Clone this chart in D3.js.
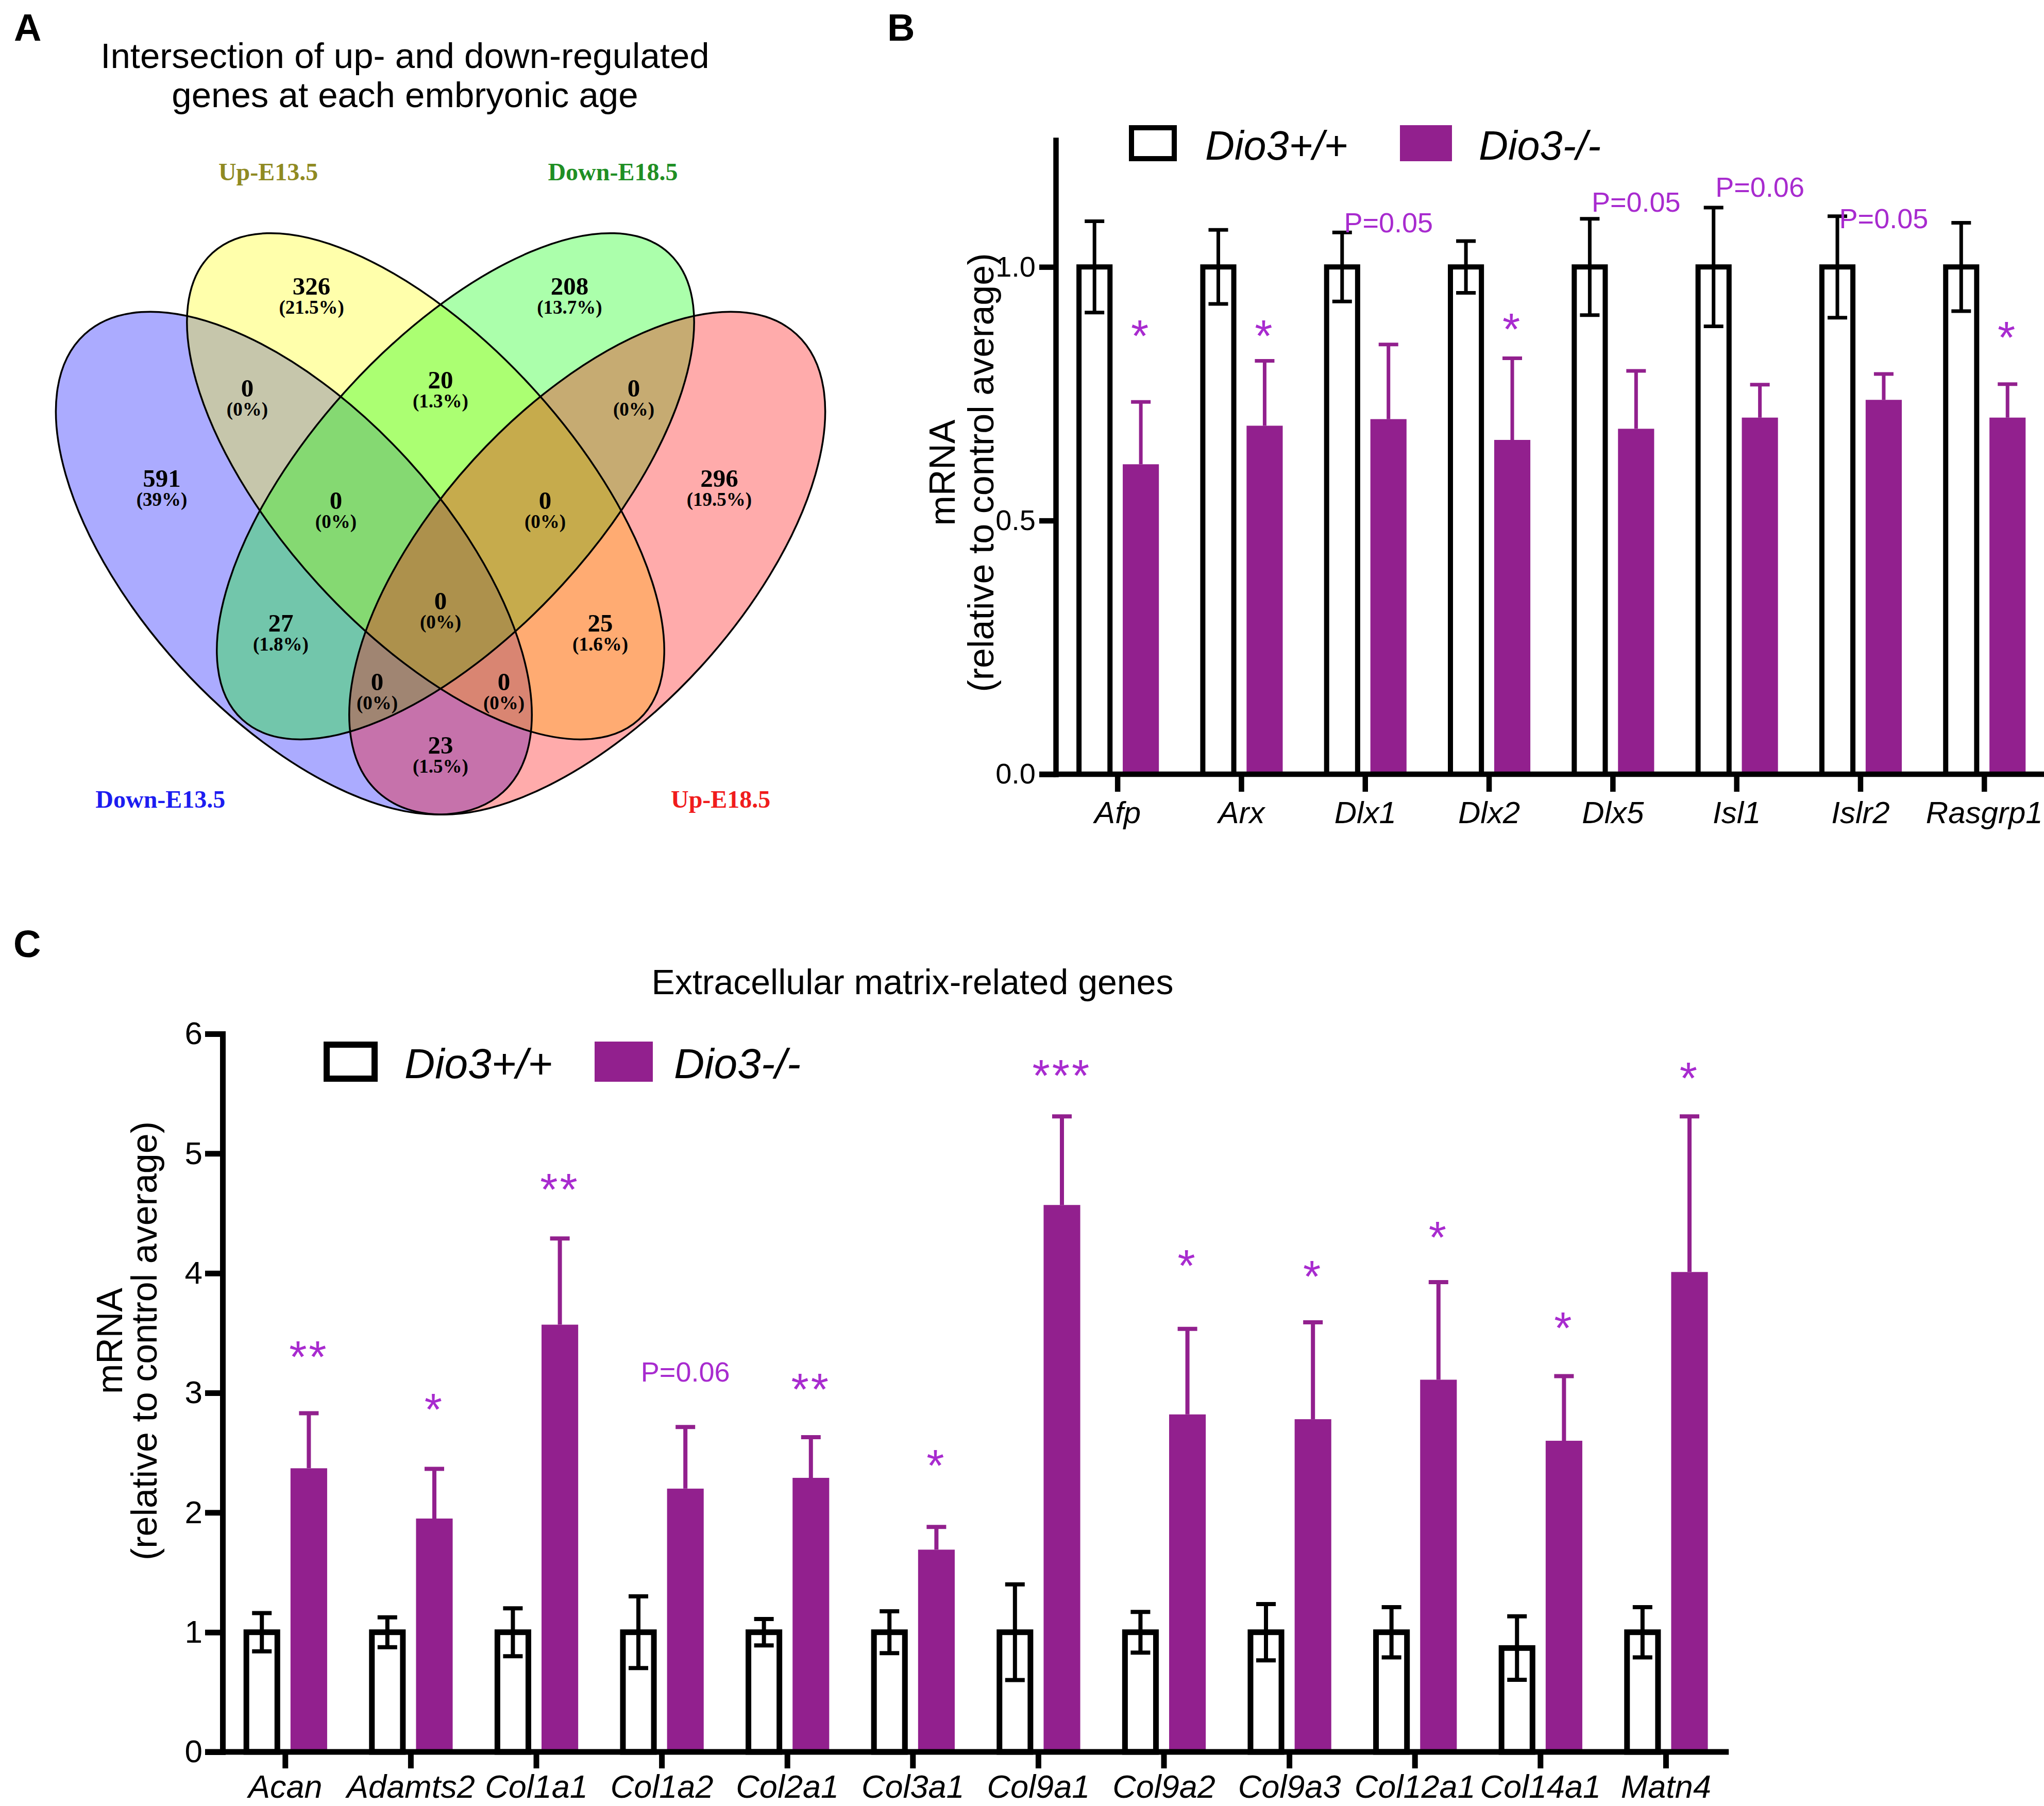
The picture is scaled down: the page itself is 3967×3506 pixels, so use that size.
<!DOCTYPE html>
<html>
<head>
<meta charset="utf-8">
<script src="https://cdn.jsdelivr.net/npm/d3@7"></script>
<style>
  html, body { margin: 0; padding: 0; background: #fff; }
  svg { display: block; }
</style>
</head>
<body>
<svg id="fig" width="3967" height="3506"></svg>
<script>
// ---------- data ----------
// panel A: 4-set Venn (set order: Down-E13.5, Up-E13.5, Down-E18.5, Up-E18.5)
const vennSets = ["Down-E13.5", "Up-E13.5", "Down-E18.5", "Up-E18.5"];
const vennRegions = ["0", "1", "2", "3", "01", "12", "23", "02", "13", "03", "012", "123", "023", "013", "0123"];
const vennCounts = [591, 326, 208, 296, 0, 20, 0, 27, 25, 23, 0, 0, 0, 0, 0];
const vennPercents = ["39", "21.5", "13.7", "19.5", "0", "1.3", "0", "1.8", "1.6", "1.5", "0", "0", "0", "0", "0"];

// panel B
const genesB = ["Afp", "Arx", "Dlx1", "Dlx2", "Dlx5", "Isl1", "Islr2", "Rasgrp1"];
const wtB = [1, 1, 1, 1, 1, 1, 1, 1];
const wtErrB = [0.09, 0.073, 0.068, 0.051, 0.095, 0.117, 0.10, 0.087];
const koB = [0.611, 0.687, 0.700, 0.659, 0.681, 0.703, 0.738, 0.703];
const koErrB = [0.123, 0.128, 0.147, 0.161, 0.114, 0.065, 0.051, 0.066];
const sigB = ["*", "*", "P=0.05", "*", "P=0.05", "P=0.06", "P=0.05", "*"];
const sigLevelB = [0.885, 0.885, 1.088, 0.898, 1.129, 1.158, 1.096, 0.882];
const ticksB = [0, 0.5, 1.0];

// panel C
const genesC = ["Acan", "Adamts2", "Col1a1", "Col1a2", "Col2a1", "Col3a1", "Col9a1", "Col9a2", "Col9a3", "Col12a1", "Col14a1", "Matn4"];
const wtC = [1, 1, 1, 1, 1, 1, 1, 1, 1, 1, 0.868, 1];
const wtErrC = [0.16, 0.125, 0.20, 0.30, 0.11, 0.175, 0.40, 0.17, 0.235, 0.21, 0.265, 0.21];
const koC = [2.37, 1.95, 3.57, 2.20, 2.29, 1.69, 4.57, 2.82, 2.78, 3.11, 2.60, 4.01];
const koErrC = [0.46, 0.415, 0.72, 0.515, 0.34, 0.19, 0.74, 0.715, 0.81, 0.815, 0.54, 1.30];
const sigC = ["**", "*", "**", "P=0.06", "**", "*", "***", "*", "*", "*", "*", "*"];
const sigLevelC = [3.39, 2.95, 4.79, 3.18, 3.12, 2.48, 5.74, 4.15, 4.06, 4.39, 3.63, 5.72];
const ticksC = [0, 1, 2, 3, 4, 5, 6];

const legendNames = ["Dio3+/+", "Dio3-/-"];

// ---------- style ----------
const sans = "'Liberation Sans', Arial, sans-serif";
const serif = "'Liberation Serif', 'Times New Roman', serif";
const purple = "#92208e";
const sigColor = "#a82bcf";
const vennFill = ["#0000ff", "#ffff00", "#00ff00", "#ff0000"];
const vennLabelColor = ["#1c1cf0", "#8f8a22", "#1f8f24", "#f01c1c"];

const svg = d3.select("#fig");

// ---------- panel letters ----------
[["A", 27, 79], ["B", 1722, 79], ["C", 26, 1858]].forEach(function (l) {
  svg.append("text").attr("x", l[1]).attr("y", l[2])
      .attr("font-family", sans).attr("font-weight", "bold").attr("font-size", 74)
      .text(l[0]);
});

// ---------- panel A : Venn ----------
(function drawVenn() {
  const g = svg.append("g");
  // unit layout -> pixels
  const vx = d3.scaleLinear().domain([0, 1]).range([-2.5, 1712.5]);
  const vy = d3.scaleLinear().domain([0, 1]).range([1899.3, 184.3]);
  const unit = 1715;
  // ellipse layout: cx, cy, semi-major, semi-minor, rotation
  const shapes = [
    [0.334, 0.470, 0.351, 0.174, 47.6],
    [0.4831, 0.557, 0.3577, 0.1645, 47.6],
    [0.5169, 0.557, 0.3577, 0.1645, -47.6],
    [0.666, 0.470, 0.351, 0.174, -47.6]
  ];
  const anchors = {
    "0": [0.1846, 0.5664], "1": [0.354, 0.784], "2": [0.646, 0.784], "3": [0.8154, 0.5664],
    "01": [0.2813, 0.6684], "12": [0.5, 0.6777], "23": [0.7187, 0.6684],
    "02": [0.3192, 0.4025], "13": [0.6808, 0.4025], "03": [0.5, 0.2643],
    "012": [0.3816, 0.5413], "123": [0.6184, 0.5413],
    "023": [0.4283, 0.336], "013": [0.5717, 0.336], "0123": [0.5, 0.4276]
  };
  const setLabelPos = [[0.183, 0.1932], [0.305, 0.9034], [0.695, 0.9034], [0.817, 0.1932]];

  g.append("text").attr("x", 786).attr("y", 132).attr("text-anchor", "middle")
      .attr("font-family", sans).attr("font-size", 69)
      .text("Intersection of up- and down-regulated");
  g.append("text").attr("x", 786).attr("y", 208).attr("text-anchor", "middle")
      .attr("font-family", sans).attr("font-size", 69)
      .text("genes at each embryonic age");

  const ell = shapes.map((s, i) => ({s: s, fill: vennFill[i]}));
  g.selectAll(".vfill").data(ell).join("ellipse").attr("class", "vfill")
      .attr("transform", d => "translate(" + vx(d.s[0]) + "," + vy(d.s[1]) + ") rotate(" + d.s[4] + ")")
      .attr("rx", d => d.s[2] * unit).attr("ry", d => d.s[3] * unit)
      .attr("fill", d => d.fill).attr("fill-opacity", 0.33).attr("stroke", "none");
  g.selectAll(".vline").data(ell).join("ellipse").attr("class", "vline")
      .attr("transform", d => "translate(" + vx(d.s[0]) + "," + vy(d.s[1]) + ") rotate(" + d.s[4] + ")")
      .attr("rx", d => d.s[2] * unit).attr("ry", d => d.s[3] * unit)
      .attr("fill", "none").attr("stroke", "#000").attr("stroke-width", 3.5);

  const regions = vennRegions.map((r, i) => ({key: r, n: vennCounts[i], pct: vennPercents[i]}));
  g.selectAll(".vnum").data(regions).join("text").attr("class", "vnum")
      .attr("x", d => vx(anchors[d.key][0])).attr("y", d => vy(anchors[d.key][1]) + 17)
      .attr("text-anchor", "middle").attr("font-family", serif).attr("font-weight", "bold")
      .attr("font-size", 49).text(d => d.n);
  g.selectAll(".vpct").data(regions).join("text").attr("class", "vpct")
      .attr("x", d => vx(anchors[d.key][0])).attr("y", d => vy(anchors[d.key][1]) + 54)
      .attr("text-anchor", "middle").attr("font-family", serif).attr("font-weight", "bold")
      .attr("font-size", 37).text(d => "(" + d.pct + "%)");

  g.selectAll(".vset").data(vennSets).join("text").attr("class", "vset")
      .attr("x", (d, i) => vx(setLabelPos[i][0])).attr("y", (d, i) => vy(setLabelPos[i][1]))
      .attr("text-anchor", "middle").attr("font-family", serif).attr("font-weight", "bold")
      .attr("font-size", 48).attr("fill", (d, i) => vennLabelColor[i]).text(d => d);
})();

// ---------- bar panels ----------
function drawBars(p) {
  const g = svg.append("g");
  const x = d3.scaleBand().domain(p.genes).range([p.axisX, p.axisX + p.genes.length * p.step]);
  const sub = d3.scaleBand().domain(["wt", "ko"]).range([0, x.bandwidth()])
      .paddingInner(0.22).paddingOuter(0.446);
  const y = d3.scaleLinear().domain([0, p.yMax]).range([p.y0, p.yTop]);
  const bw = sub.bandwidth();
  const rows = p.genes.map((gene, i) => ({
    gene: gene, wt: p.wt[i], wtErr: p.wtErr[i], ko: p.ko[i], koErr: p.koErr[i],
    sig: p.sig[i], sigLevel: p.sigLevel[i]
  }));
  const wtX = d => x(d.gene) + sub("wt") + bw / 2;
  const koX = d => x(d.gene) + sub("ko") + bw / 2;
  const half = p.cap / 2;

  // knockout bars + upper error
  g.selectAll(".ko").data(rows).join("rect").attr("class", "ko")
      .attr("x", d => x(d.gene) + sub("ko")).attr("y", d => y(d.ko))
      .attr("width", bw).attr("height", d => y(0) - y(d.ko))
      .attr("fill", purple);
  g.selectAll(".koerr").data(rows).join("path").attr("class", "koerr")
      .attr("d", d => "M" + koX(d) + "," + y(d.ko) + "V" + y(d.ko + d.koErr)
          + "M" + (koX(d) - half) + "," + y(d.ko + d.koErr) + "H" + (koX(d) + half))
      .attr("fill", "none").attr("stroke", purple).attr("stroke-width", p.errW);

  // wild type open bars + two-sided error
  g.selectAll(".wt").data(rows).join("rect").attr("class", "wt")
      .attr("x", d => x(d.gene) + sub("wt") + p.barStroke / 2).attr("y", d => y(d.wt))
      .attr("width", bw - p.barStroke).attr("height", d => y(0) - y(d.wt))
      .attr("fill", "#fff").attr("stroke", "#000").attr("stroke-width", p.barStroke);
  g.selectAll(".wterr").data(rows).join("path").attr("class", "wterr")
      .attr("d", d => "M" + wtX(d) + "," + y(d.wt - d.wtErr) + "V" + y(d.wt + d.wtErr)
          + "M" + (wtX(d) - half) + "," + y(d.wt + d.wtErr) + "H" + (wtX(d) + half)
          + "M" + (wtX(d) - half) + "," + y(d.wt - d.wtErr) + "H" + (wtX(d) + half))
      .attr("fill", "none").attr("stroke", "#000").attr("stroke-width", p.errW);

  // significance marks
  g.selectAll(".sig").data(rows).join("text").attr("class", "sig")
      .attr("x", d => koX(d))
      .attr("y", d => d.sig[0] === "P" ? y(d.sigLevel) + p.pFont * 0.36 : y(d.sigLevel) + p.starFont * 0.575)
      .attr("text-anchor", "middle").attr("font-family", sans)
      .attr("font-size", d => d.sig[0] === "P" ? p.pFont : p.starFont)
      .attr("letter-spacing", d => d.sig[0] === "P" ? 0 : 4)
      .attr("fill", sigColor).text(d => d.sig);

  // y axis
  const ya = g.append("g").attr("transform", "translate(" + p.axisX + ",0)")
      .call(d3.axisLeft(y).tickValues(p.ticks).tickFormat(p.fmt)
          .tickSize(p.tickLen).tickSizeOuter(0).tickPadding(p.tickPad));
  ya.select(".domain").attr("stroke-width", p.axisW).attr("stroke-linecap", "square");
  ya.selectAll(".tick line").attr("stroke-width", p.axisW);
  ya.selectAll(".tick text").attr("font-family", sans).attr("font-size", p.tickFont).attr("fill", "#000");

  // x axis
  const xa = g.append("g").attr("transform", "translate(0," + p.y0 + ")")
      .call(d3.axisBottom(x).tickSize(p.xTickLen).tickSizeOuter(0));
  xa.select(".domain").remove();
  xa.selectAll(".tick line").attr("stroke-width", p.axisW);
  xa.selectAll(".tick text").attr("y", p.labelDrop).attr("dy", 0)
      .attr("font-family", sans).attr("font-style", "italic")
      .attr("font-size", p.xFont).attr("fill", "#000");
  g.append("line").attr("x1", p.axisX - p.tickLen).attr("x2", x.range()[1])
      .attr("y1", p.y0).attr("y2", p.y0)
      .attr("stroke", "#000").attr("stroke-width", p.axisW);

  // y label
  const ly = (p.y0 + p.yTop) / 2 + p.labelShift;
  g.append("text").attr("transform", "translate(" + p.ylab1 + "," + ly + ") rotate(-90)")
      .attr("text-anchor", "middle").attr("font-family", sans).attr("font-size", 70)
      .text("mRNA");
  g.append("text").attr("transform", "translate(" + p.ylab2 + "," + ly + ") rotate(-90)")
      .attr("text-anchor", "middle").attr("font-family", sans).attr("font-size", 70)
      .text("(relative to control average)");

  // legend
  const lg = g.append("g");
  lg.append("rect").attr("x", p.leg[0] + p.legStroke / 2).attr("y", p.leg[1] + p.legStroke / 2)
      .attr("width", p.leg[2] - p.legStroke).attr("height", p.leg[3] - p.legStroke)
      .attr("fill", "#fff").attr("stroke", "#000").attr("stroke-width", p.legStroke);
  lg.append("rect").attr("x", p.leg[4]).attr("y", p.leg[1])
      .attr("width", p.leg[2] + 8).attr("height", p.leg[3])
      .attr("fill", purple);
  lg.selectAll("text").data(legendNames).join("text")
      .attr("x", (d, i) => i === 0 ? p.legText[0] : p.legText[1]).attr("y", p.legText[2])
      .attr("font-family", sans).attr("font-style", "italic").attr("font-size", p.legFont)
      .text(d => d);
}

drawBars({
  genes: genesB, wt: wtB, wtErr: wtErrB, ko: koB, koErr: koErrB, sig: sigB, sigLevel: sigLevelB,
  ticks: ticksB, fmt: d3.format(".1f"), yMax: 1.25,
  axisX: 2049, step: 240.3, y0: 1503, yTop: 272,
  barStroke: 10, errW: 7, cap: 38, axisW: 10.5,
  tickLen: 32, tickPad: 7, tickFont: 56, xTickLen: 34, labelDrop: 95, xFont: 60,
  pFont: 54, starFont: 88,
  ylab1: 1853, ylab2: 1928, labelShift: 30,
  leg: [2191, 243, 93, 70, 2717], legStroke: 10, legText: [2339, 2870, 310], legFont: 79
});

drawBars({
  genes: genesC, wt: wtC, wtErr: wtErrC, ko: koC, koErr: koErrC, sig: sigC, sigLevel: sigLevelC,
  ticks: ticksC, fmt: d3.format("d"), yMax: 6,
  axisX: 432, step: 243.6, y0: 3401, yTop: 2007,
  barStroke: 11, errW: 8, cap: 38, axisW: 11,
  tickLen: 34, tickPad: 5, tickFont: 62, xTickLen: 32, labelDrop: 89, xFont: 63,
  pFont: 54, starFont: 88,
  ylab1: 237, ylab2: 304, labelShift: -101,
  leg: [628, 2022, 105, 78, 1154], legStroke: 12, legText: [785, 1308, 2093], legFont: 82
});

svg.append("text").attr("x", 1771).attr("y", 1930).attr("text-anchor", "middle")
    .attr("font-family", sans).attr("font-size", 68)
    .text("Extracellular matrix-related genes");
</script>
</body>
</html>
